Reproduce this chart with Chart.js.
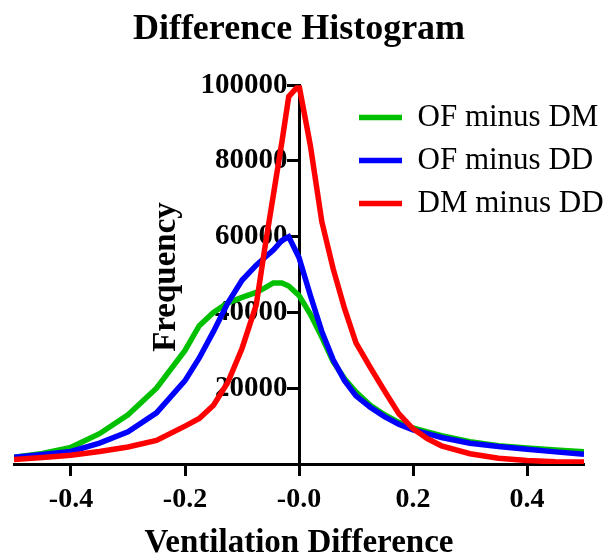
<!DOCTYPE html>
<html>
<head>
<meta charset="utf-8">
<script src="https://cdn.jsdelivr.net/npm/chart.js@4.4.1/dist/chart.umd.min.js"></script>
<style>
  html, body { margin: 0; padding: 0; background: #fff; }
  #wrap { width: 613px; height: 554px; }
</style>
</head>
<body>
<div id="wrap"><canvas id="chart" width="613" height="554"></canvas></div>
<script>
// Bin centres (ventilation difference)
var binCentres = [-0.5, -0.45, -0.4, -0.35, -0.3, -0.25, -0.2, -0.175, -0.15, -0.125, -0.1, -0.075, -0.06, -0.045, -0.03, -0.018,
  0, 0.02, 0.04, 0.06, 0.08, 0.1, 0.125, 0.15, 0.175, 0.2, 0.225, 0.25, 0.3, 0.35, 0.4, 0.45, 0.5];

// Frequencies
var ofMinusDM = [1800, 2800, 4400, 8000, 13000, 20000, 30000, 36500, 40000, 42500, 44000, 45300, 46500, 47800, 47800, 47000,
  44500, 39500, 33500, 27000, 22500, 19000, 15500, 13000, 11000, 9500, 8500, 7500, 5900, 4800, 4200, 3700, 3200];
var ofMinusDD = [1800, 2500, 3300, 5500, 8500, 13500, 22000, 28000, 35000, 42500, 48500, 52500, 54500, 56500, 59000, 60000,
  54500, 44500, 35000, 27500, 22000, 18000, 15000, 12500, 10500, 9000, 8000, 7000, 5500, 4600, 3900, 3200, 2600];
var dmMinusDD = [1200, 1700, 2300, 3300, 4500, 6200, 10000, 12000, 15500, 21500, 30500, 42000, 57000, 71000, 85000, 97000,
  100000, 84000, 64000, 51500, 41000, 32000, 25500, 19300, 13300, 9300, 6700, 4800, 2700, 1500, 900, 600, 500];

var seriesNames = ['OF minus DM', 'OF minus DD', 'DM minus DD'];
var seriesColours = ['rgb(0,192,0)', 'rgb(0,0,255)', 'rgb(255,0,0)'];

var xTickValues = [-0.4, -0.2, 0, 0.2, 0.4];
var xTickLabels = ['-0.4', '-0.2', '-0.0', '0.2', '0.4'];
var yTickValues = [20000, 40000, 60000, 80000, 100000];

var serif = "'Liberation Serif', 'Times New Roman', serif";

function toPoints(ys) { //pair each frequency with its bin centre
  return ys.map(function (y, i) { return { x: binCentres[i], y: y }; });
}

var allSeries = [ofMinusDM, ofMinusDD, dmMinusDD];
var datasets = allSeries.map(function (ys, i) {
  return {
    label: seriesNames[i],
    data: toPoints(ys),
    borderColor: seriesColours[i],
    backgroundColor: seriesColours[i],
    borderWidth: 5.5,
    pointRadius: 0,
    tension: 0,
    order: 3 - i //red on top, green underneath
  };
});

// Frequency label sits left of the y axis, reading bottom to top
var yTitlePlugin = {
  id: 'yTitle',
  afterDraw: function (chart) {
    var ctx = chart.ctx;
    ctx.save();
    ctx.translate(166, 277);
    ctx.rotate(-Math.PI / 2);
    ctx.font = 'bold 33px ' + serif;
    ctx.fillStyle = '#000';
    ctx.textAlign = 'center';
    ctx.textBaseline = 'middle';
    ctx.fillText('Frequency', 0, 0);
    ctx.restore();
  }
};

// Move the legend into the top-right of the plot
var legendPlacer = {
  id: 'legendPlacer',
  afterLayout: function (chart) {
    var lg = chart.legend;
    if (lg) {
      lg.left = 347;
      lg.top = 90;
      lg.right = 613;
      lg.bottom = 90 + lg.height;
      lg.width = lg.right - lg.left;
    }
  }
};

new Chart(document.getElementById('chart'), {
  type: 'line',
  data: { datasets: datasets },
  plugins: [yTitlePlugin, legendPlacer],
  options: {
    responsive: false,
    animation: false,
    layout: { padding: { left: 14, right: 29, top: 0, bottom: -6 } },
    scales: {
      x: {
        type: 'linear',
        min: -0.5,
        max: 0.5,
        afterBuildTicks: function (scale) {
          scale.ticks = xTickValues.map(function (v) { return { value: v }; });
        },
        ticks: {
          color: '#000',
          font: { family: serif, size: 28, weight: 'bold', lineHeight: 1 },
          padding: 10,
          maxRotation: 0,
          autoSkip: false,
          callback: function (value) {
            var i = xTickValues.indexOf(value);
            return i >= 0 ? xTickLabels[i] : '';
          }
        },
        grid: { drawOnChartArea: false, drawTicks: true, tickLength: 12, tickWidth: 3, tickColor: '#000' },
        border: { color: '#000', width: 3 },
        title: {
          display: true,
          text: 'Ventilation Difference',
          color: '#000',
          font: { family: serif, size: 33, weight: 'bold', lineHeight: 1 },
          padding: { top: 3, bottom: 0 }
        }
      },
      y: {
        type: 'linear',
        position: { x: 0 },
        min: 0,
        max: 100000,
        afterBuildTicks: function (scale) {
          scale.ticks = yTickValues.map(function (v) { return { value: v }; });
        },
        ticks: {
          color: '#000',
          font: { family: serif, size: 29, weight: 'bold' },
          callback: function (value) { return String(value) + '\u2009\u2009'; } //keeps the label clear of the tick mark
        },
        grid: { drawOnChartArea: false, drawTicks: true, tickLength: 11, tickWidth: 3, tickColor: '#000' },
        border: { color: '#000', width: 3 }
      }
    },
    plugins: {
      title: {
        display: true,
        text: 'Difference Histogram',
        color: '#000',
        font: { family: serif, size: 36, weight: 'bold', lineHeight: 1.2 },
        padding: { top: 8, bottom: 34 }
      },
      legend: {
        position: 'chartArea',
        align: 'start',
        labels: {
          usePointStyle: true,
          pointStyle: 'line',
          pointStyleWidth: 43,
          color: '#000',
          padding: 12,
          font: { family: serif, size: 31 },
          sort: function (a, b) { return a.datasetIndex - b.datasetIndex; }
        }
      },
      tooltip: { enabled: false }
    }
  }
});
</script>
</body>
</html>
